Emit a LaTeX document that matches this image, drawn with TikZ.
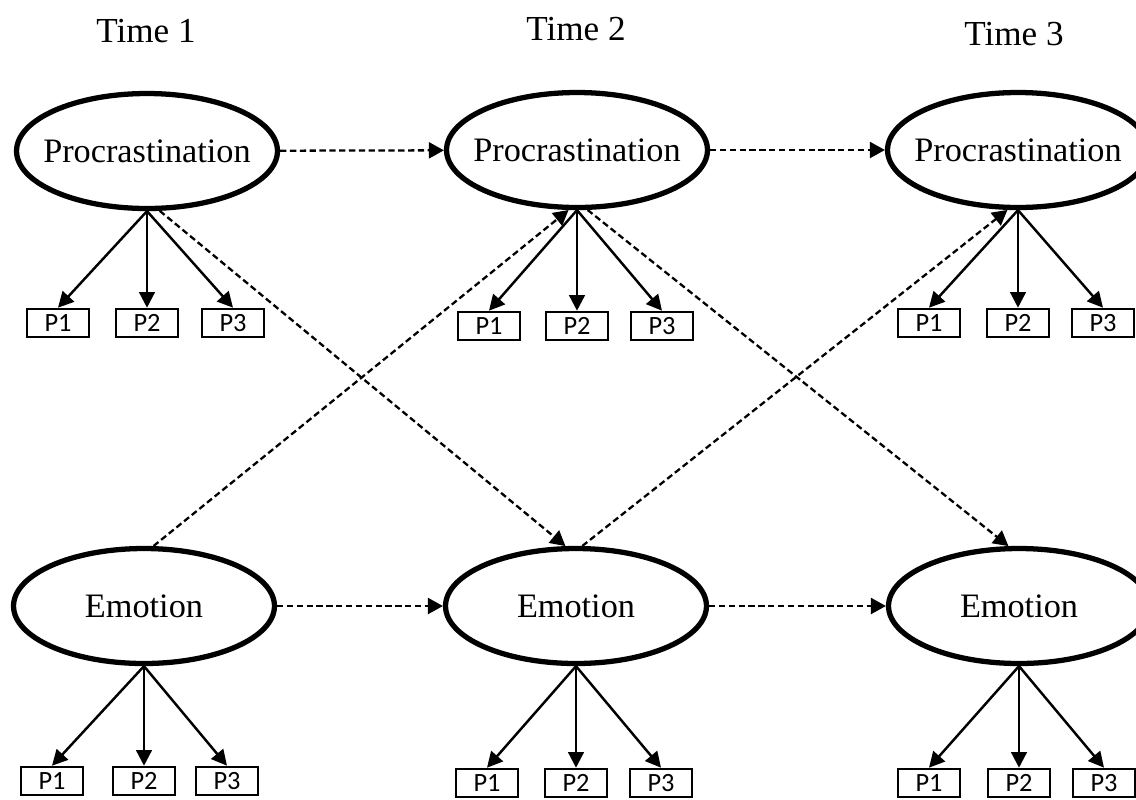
\documentclass[tikz,border=0pt]{standalone}
\usepackage{fontspec}
\setmainfont{Liberation Serif}
\newfontfamily\boxfont{Carlito}
\usetikzlibrary{arrows.meta,positioning,shapes.geometric}

\begin{document}
\begin{tikzpicture}[x=0.02cm,y=-0.02cm,
  latent/.style={ellipse,draw,line width=3pt,minimum width=5.22cm,minimum height=2.3cm,inner sep=-1cm,font=\fontsize{19.5}{20}\selectfont},
  ind/.style={rectangle,draw,line width=1.2pt,minimum width=1.24cm,minimum height=0.57cm,inner sep=0pt,font=\boxfont\fontsize{15}{15}\selectfont},
  load/.style={line width=1.4pt,-{Triangle[length=0.31cm,width=0.31cm]}},
  lag/.style={line width=1.3pt,dash pattern=on 3.6pt off 2pt,-{Triangle[length=0.3cm,width=0.32cm]}},
  time/.style={font=\fontsize{20}{20}\selectfont}]
\useasboundingbox (0,0) rectangle (1136,799);
% time labels
\node [time] (t1) at (146,31) {Time 1};
\node [time] (t2) at (576,29) {Time 2};
\node [time] (t3) at (1014,34) {Time 3};
% latent factors
\node [latent] (p1) at (147,151) {Procrastination};
\node [latent] (p2) at (577,150) {Procrastination};
\node [latent] (p3) at (1018,150) {Procrastination};
\node [latent] (e1) at (144,606) {Emotion};
\node [latent] (e2) at (576,606) {Emotion};
\node [latent] (e3) at (1019,606) {Emotion};
% indicators
\node [ind] (p1a) at (58,323) {P1};
\node [ind] (p1b) at (147,323) {P2};
\node [ind] (p1c) at (233,323) {P3};
\node [ind] (p2a) at (489,326) {P1};
\node [ind] (p2b) at (577,326) {P2};
\node [ind] (p2c) at (662,326) {P3};
\node [ind] (p3a) at (929,323) {P1};
\node [ind] (p3b) at (1018,323) {P2};
\node [ind] (p3c) at (1103,323) {P3};
\node [ind] (e1a) at (52,781) {P1};
\node [ind] (e1b) at (144,781) {P2};
\node [ind] (e1c) at (227,781) {P3};
\node [ind] (e2a) at (487,783) {P1};
\node [ind] (e2b) at (576,783) {P2};
\node [ind] (e2c) at (661,783) {P3};
\node [ind] (e3a) at (929,783) {P1};
\node [ind] (e3b) at (1019,783) {P2};
\node [ind] (e3c) at (1104,783) {P3};
% loadings
\foreach \f in {p1,p2,p3,e1,e2,e3}
  \foreach \i in {a,b,c}
    \draw [load] (\f.south) -- (\f\i.north);
% stability paths
\draw [lag] (p1) -- (p2);
\draw [lag] (p2) -- (p3);
\draw [lag] (e1) -- (e2);
\draw [lag] (e2) -- (e3);
% cross-lagged paths
\draw [lag] (p1.-78) -- (e2.100);
\draw [lag] (e1.81) -- (p2.-98);
\draw [lag] (p2.-80) -- (e3.100);
\draw [lag] (e2.84) -- (p3.-100);
\end{tikzpicture}
\end{document}
